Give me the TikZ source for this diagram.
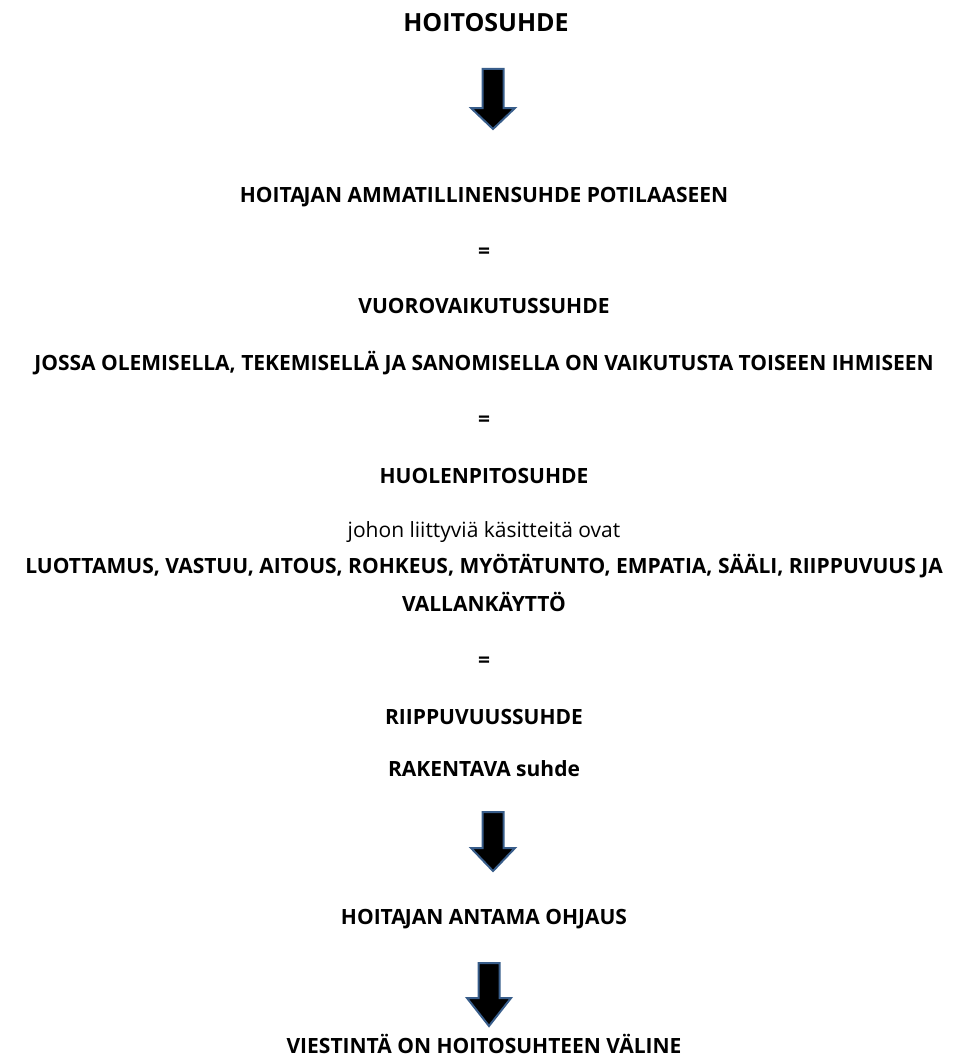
\documentclass[tikz,border=0pt]{standalone}
\usepackage{fontspec}
\setmainfont{Open Sans}
\usetikzlibrary{positioning}
\definecolor{arrowblue}{RGB}{56,93,138}
\newcommand{\tja}{TA\kern-1pt JAN}

\begin{document}
\begin{tikzpicture}[x=1pt, y=-1pt, font=\fontsize{21}{26}\selectfont\bfseries]
  \useasboundingbox (0,0) rectangle (969,1057);
  \tikzset{line/.style={inner sep=0pt, anchor=base},
           blockarrow/.style={fill=black, draw=arrowblue, line width=2pt, line join=miter}}

  % title
  \node[line, font=\fontsize{25}{30}\selectfont\bfseries] (title) at (486,32) {HOITOSUHDE};

  % text lines (y = baseline)
  \foreach \n/\y/\t in {amm/202/HOI\tja\ AMMATILLINENSUHDE POTILAASEEN, eqa/258/=,
      vuoro/313/VUOROVAIKUTUSSUHDE,
      jossa/370/{JOSSA OLEMISELLA, TEKEMISELLÄ JA SANOMISELLA ON VAIKUTUSTA TOISEEN IHMISEEN},
      eqb/426/=, huolen/483/HUOLENPITOSUHDE,
      luott/573/{LUOTTAMUS, VASTUU, AITOUS, ROHKEUS, MYÖTÄTUNTO, EMPATIA, SÄÄLI, RIIPPUVUUS JA},
      vallan/611/VALLANKÄYTTÖ, eqc/667/=, riipp/724/RIIPPUVUUSSUHDE,
      rak/776/RAKENTAVA suhde,
      ohjaus/924/HOI\tja\ ANTAMA OHJAUS, viest/1053/VIESTINTÄ ON HOITOSUHTEEN VÄLINE} {
    \node[line] (\n) at (484,\y) {\t};
  }
  \node[line, font=\fontsize{21}{26}\selectfont] (johon) at (484,537) {johon liittyviä käsitteitä ovat};

  % block arrows
  \foreach \x/\top/\head/\tip in {493/69/108/129, 493/812/848/871, 489/963/998/1026} {
    \draw[blockarrow] (\x-10.5,\top) -- (\x+10.5,\top) -- (\x+10.5,\head) -- (\x+22,\head)
      -- (\x,\tip) -- (\x-22,\head) -- (\x-10.5,\head) -- cycle;
  }
\end{tikzpicture}
\end{document}
